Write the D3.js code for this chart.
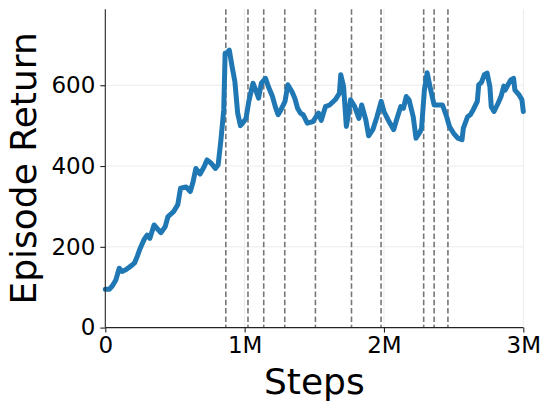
<!DOCTYPE html>
<html>
<head>
<meta charset="utf-8">
<script src="https://cdn.jsdelivr.net/npm/d3@7"></script>
<style>
  html, body { margin: 0; padding: 0; background: #fff; }
  svg { display: block; }
  text { font-family: "DejaVu Sans", sans-serif; fill: #000; }
</style>
</head>
<body>
<svg id="chart" width="550" height="411"></svg>
<script>
// Steps in millions
const steps = [
  0.00, 0.03, 0.05, 0.076, 0.10, 0.12, 0.15, 0.19, 0.21, 0.23, 0.25, 0.28, 0.30, 0.32, 0.35,
  0.37, 0.40, 0.43, 0.45, 0.49, 0.52, 0.54, 0.58, 0.61, 0.63, 0.65, 0.68, 0.71, 0.73, 0.76,
  0.79, 0.81, 0.83, 0.85, 0.86, 0.87, 0.89, 0.91, 0.93, 0.95, 0.97, 0.99, 1.01, 1.03, 1.06,
  1.08, 1.10, 1.12, 1.15, 1.17, 1.20, 1.22, 1.24, 1.26, 1.29, 1.31, 1.34, 1.36, 1.38, 1.40,
  1.42, 1.45, 1.49, 1.53, 1.55, 1.58, 1.61, 1.65, 1.68, 1.69, 1.71, 1.73, 1.74, 1.76, 1.79,
  1.82, 1.84, 1.87, 1.89, 1.92, 1.95, 1.98, 2.00, 2.03, 2.07, 2.09, 2.12, 2.14, 2.16, 2.18,
  2.21, 2.23, 2.26, 2.27, 2.29, 2.31, 2.33, 2.36, 2.38, 2.42, 2.45, 2.47, 2.50, 2.53, 2.56,
  2.57, 2.60, 2.62, 2.64, 2.67, 2.68, 2.70, 2.72, 2.74, 2.76, 2.77, 2.79, 2.82, 2.84, 2.86,
  2.87, 2.89, 2.91, 2.93, 2.94, 2.97, 2.99, 3.00
];
const returns = [
  95, 95, 103, 118, 147, 139, 144, 154, 160, 177, 196, 219, 229, 221, 254,
  246, 235, 250, 275, 287, 304, 345, 348, 337, 361, 394, 380, 399, 415, 407,
  394, 403, 465, 539, 679, 679, 687, 646, 609, 531, 500, 508, 518, 560, 605,
  588, 568, 605, 617, 597, 572, 547, 527, 539, 560, 601, 584, 568, 543, 531,
  527, 506, 510, 531, 513, 547, 551, 564, 580, 626, 597, 498, 518, 564, 547,
  518, 551, 514, 475, 490, 522, 560, 535, 514, 490, 514, 547, 543, 572, 564,
  522, 469, 485, 494, 588, 631, 597, 551, 551, 551, 522, 498, 481, 469, 465,
  494, 522, 527, 539, 560, 601, 607, 626, 630, 597, 547, 535, 556, 572, 598,
  588, 601, 613, 617, 588, 576, 564, 535
];
// Vertical dashed markers (millions of steps)
const markers = [0.865, 1.024, 1.137, 1.288, 1.508, 1.767, 1.979, 2.285, 2.360, 2.459];
const xTicks = [0, 1, 2, 3];
const xTickLabels = ["0", "1M", "2M", "3M"];
const yTicks = [0, 200, 400, 600];
const xTitle = "Steps";
const yTitle = "Episode Return";

const svg = d3.select("#chart");
const pL = 105.3, pR = 523.3, pT = 9.3, pB = 327.6;

const x = d3.scaleLinear().domain([0, 3]).range([pL, pR]);
const y = d3.scaleLinear().domain([0, 788]).range([pB, pT]);

// grid
const grid = svg.append("g");
grid.selectAll("line.gy").data(yTicks.filter(d => d > 0)).join("line")
  .attr("x1", pL).attr("x2", pR)
  .attr("y1", d => y(d)).attr("y2", d => y(d))
  .attr("stroke", "#ebebeb").attr("stroke-width", 1);
grid.selectAll("line.gx").data(xTicks.filter(d => d > 0)).join("line")
  .attr("x1", d => x(d)).attr("x2", d => x(d))
  .attr("y1", pT).attr("y2", pB)
  .attr("stroke", "#ebebeb").attr("stroke-width", 1);

// dashed markers
svg.append("g").selectAll("line").data(markers).join("line")
  .attr("x1", d => x(d)).attr("x2", d => x(d))
  .attr("y1", pT).attr("y2", pB)
  .attr("stroke", "#777").attr("stroke-width", 1.6)
  .attr("stroke-dasharray", "5.5,2.8");

// line
const data = steps.map((s, i) => [s, returns[i]]);
svg.append("path").datum(data)
  .attr("fill", "none")
  .attr("stroke", "#1f77b4")
  .attr("stroke-width", 5)
  .attr("stroke-linejoin", "round")
  .attr("stroke-linecap", "round")
  .attr("d", d3.line().x(d => x(d[0])).y(d => y(d[1])));

// axes
const xAxis = d3.axisBottom(x).tickValues(xTicks)
  .tickFormat((d, i) => xTickLabels[i]).tickSizeOuter(0).tickSize(5).tickPadding(4);
const gx = svg.append("g").attr("transform", `translate(0,${pB})`).call(xAxis);
const yAxis = d3.axisLeft(y).tickValues(yTicks).tickSizeOuter(0).tickSize(5).tickPadding(5);
const gy = svg.append("g").attr("transform", `translate(${pL},0)`).call(yAxis);

[gx, gy].forEach(g => {
  g.select(".domain").attr("stroke", "#222").attr("stroke-width", 1.1);
  g.selectAll(".tick line").attr("stroke", "#222").attr("stroke-width", 1.1);
  g.selectAll(".tick text").attr("font-size", 23).attr("font-family", "DejaVu Sans").attr("fill", "#000");
});
gy.select(".domain").attr("d", `M0,${pT}V${pB}`);
gx.select(".domain").attr("d", `M${pL},0H${pR}`);

// titles
svg.append("text")
  .attr("x", (pL + pR) / 2).attr("y", 394)
  .attr("text-anchor", "middle")
  .attr("font-size", 36)
  .text(xTitle);
svg.append("text")
  .attr("transform", `translate(36,${(pT + pB) / 2}) rotate(-90)`)
  .attr("text-anchor", "middle")
  .attr("font-size", 36)
  .text(yTitle);
</script>
</body>
</html>
